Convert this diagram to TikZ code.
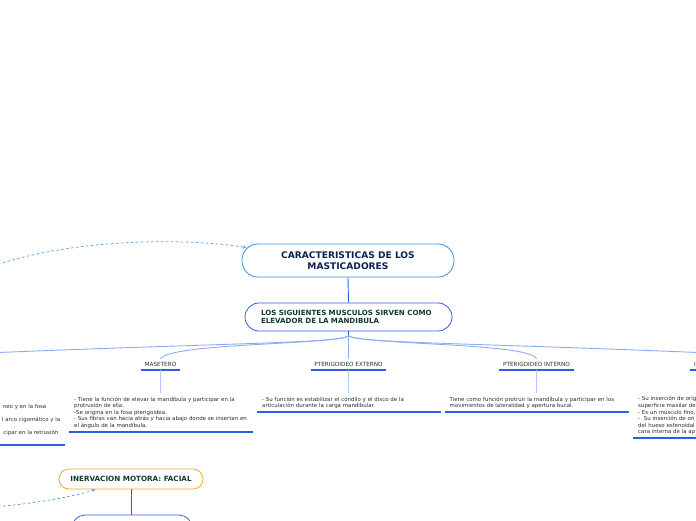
\documentclass[tikz,border=0pt]{standalone}
\usepackage{fontspec}
\setmainfont{DejaVu Sans}
\usetikzlibrary{arrows.meta}
\definecolor{mainborder}{HTML}{3A8FD9}
\definecolor{subborder}{HTML}{2A5FE8}
\definecolor{navy}{HTML}{0B2250}
\definecolor{dgreen}{HTML}{0E3B2E}
\definecolor{branchc}{HTML}{8FAAF2}
\definecolor{stemc}{HTML}{B0C8F5}
\definecolor{ulc}{HTML}{2A5FE8}
\definecolor{dashc}{HTML}{5DA5E8}
\definecolor{orng}{HTML}{F5A623}
\definecolor{txtc}{HTML}{2B2B2B}
\begin{document}
\begin{tikzpicture}[x=1pt,y=-1pt,
  mainbox/.style={draw=mainborder, line width=0.8pt, rounded corners=16pt, align=center,
    font=\fontsize{9.1}{10.6}\selectfont\bfseries, text=navy, inner sep=0pt},
  subbox/.style={draw=subborder, line width=0.8pt, rounded corners=14pt, align=left,
    font=\fontsize{7.1}{8}\selectfont\bfseries, text=dgreen, inner xsep=16pt, inner ysep=0pt},
  inbox/.style={draw=orng, line width=0.8pt, rounded corners=10pt, align=center,
    font=\fontsize{7.2}{8}\selectfont\bfseries, text=dgreen, inner sep=0pt},
  lowbox/.style={draw=subborder, line width=0.8pt, rounded corners=13pt, inner sep=0pt},
  lbl/.style={font=\fontsize{5.7}{6.5}\selectfont, text=txtc, inner xsep=3pt, inner ysep=0pt, minimum height=11pt},
  body/.style={font=\fontsize{5.45}{6.6}\selectfont, text=txtc, align=left, text width=174pt,
    inner xsep=5pt, inner ysep=3pt, anchor=north west},
  frag/.style={font=\fontsize{5.45}{6.5}\selectfont, text=txtc, inner sep=0pt},
  ul/.style={draw=ulc, line width=2pt},
  stem/.style={draw=stemc, line width=1.5pt},
  branch/.style={draw=branchc, line width=0.9pt},
  conn/.style={draw=subborder, line width=0.9pt},
  dashconn/.style={draw=dashc, line width=0.8pt, dash pattern=on 2.5pt off 2.5pt, -{Stealth[length=4pt,width=3.5pt]}}
]
\useasboundingbox (0,0) rectangle (696,520);
\clip (0,0) rectangle (696,520);

% main nodes
\node[mainbox, minimum width=212pt, minimum height=33pt] (main) at (348,260.5) {CARACTERISTICAS DE LOS\\MASTICADORES};
\node[subbox, text width=175pt, minimum height=28pt] (sub) at (348.5,317) {LOS SIGUIENTES MUSCULOS SIRVEN COMO\\ELEVADOR DE LA MANDIBULA};
\draw[conn] (main.south) -- (sub.north);
\coordinate (hub) at (348.5,336);
\draw[conn] (sub.south) -- (hub);

% labels
\node[lbl, minimum width=39pt] (mas) at (160.5,364.5) {MASETERO};
\node[lbl, minimum width=75pt] (pext) at (348.5,364.5) {PTERIGOIDEO EXTERNO};
\node[lbl, minimum width=75pt] (pint) at (536.5,364.5) {PTERIGOIDEO INTERNO};
\node[lbl, anchor=west, inner xsep=0pt] (rlab) at (694,364.5) {I};
\coordinate (L) at (-2,352.5);
\coordinate (R) at (698,352.5);

\foreach \n in {mas,pext,pint}{\draw[ul] (\n.south west) -- (\n.south east);}
\coordinate (ru1) at (690,370);
\coordinate (ru2) at (698,370);
\draw[ul] (ru1) -- (ru2);

% branches
\draw[branch] (hub) .. controls (340,343) and (230,343) .. (L);
\draw[branch] (hub) .. controls (330,345) and (170,343) .. (mas.north);
\draw[branch] (hub) -- (pext.north);
\draw[branch] (hub) .. controls (370,345) and (530,343) .. (pint.north);
\draw[branch] (hub) .. controls (360,343) and (470,343) .. (R);

% body texts
\node[body, minimum height=39pt] (masT) at (69,393) {- Tiene la función de elevar la mandíbula y participar en la\\protrusión de ella.\\-Se origina en la fosa pterigoidea.\\- Sus fibras van hacia atrás y hacia abajo donde se insertan en\\el ángulo de la mandíbula.};
\node[body, minimum height=19pt] (pextT) at (257,393) {- Su función es estabilizar el cóndilo y el disco de la\\articulación durante la carga mandibular.};
\node[body, minimum height=19pt] (pintT) at (444.5,393) {Tiene como función protruir la mandíbula y participar en los\\movimientos de lateralidad y apertura bucal.};
\node[body, minimum height=45pt] (rT) at (633,393) {- Su inserción de orig\\superficie maxilar del\\- Es un músculo fino,\\-\ \ Su inserción de ori\\del hueso esfenoidal\\cara interna de la ap};
\draw[stem] (mas.south) -- (mas.south |- masT.north);
\draw[stem] (pext.south) -- (pext.south |- pextT.north);
\draw[stem] (pint.south) -- (pint.south |- pintT.north);
\foreach \n in {masT,pextT,pintT,rT}{\draw[ul] (\n.south west) -- (\n.south east);}

% left cut text
\node[frag, anchor=east] (l1) at (46.5,407) {neo y en la fosa};
\node[frag, anchor=east] (l2) at (60.5,420) {l arco cigomático y la};
\node[frag, anchor=east] (l3) at (58.5,433) {cipar en la retrusión};
\coordinate (lu) at (-2,445);
\coordinate (lu2) at (64.5,445);
\draw[ul] (lu) -- (lu2);

% inervacion
\node[inbox, minimum width=144pt, minimum height=20pt] (inerv) at (131,479) {INERVACION MOTORA: FACIAL};
\node[lowbox, minimum width=120pt, minimum height=30pt] (low) at (132,530) {};
\draw[conn] (inerv.south) -- (inerv.south |- low.north);

% dashed connectors
\coordinate (d1) at (-2,264.5);
\draw[dashconn] (d1) .. controls (70,240) and (180,237) .. ([xshift=5pt,yshift=-4pt]main.north west);
\coordinate (d2) at (-2,506.5);
\draw[dashconn] (d2) .. controls (40,503) and (75,496) .. ([xshift=37pt]inerv.south west);
\end{tikzpicture}
\end{document}
